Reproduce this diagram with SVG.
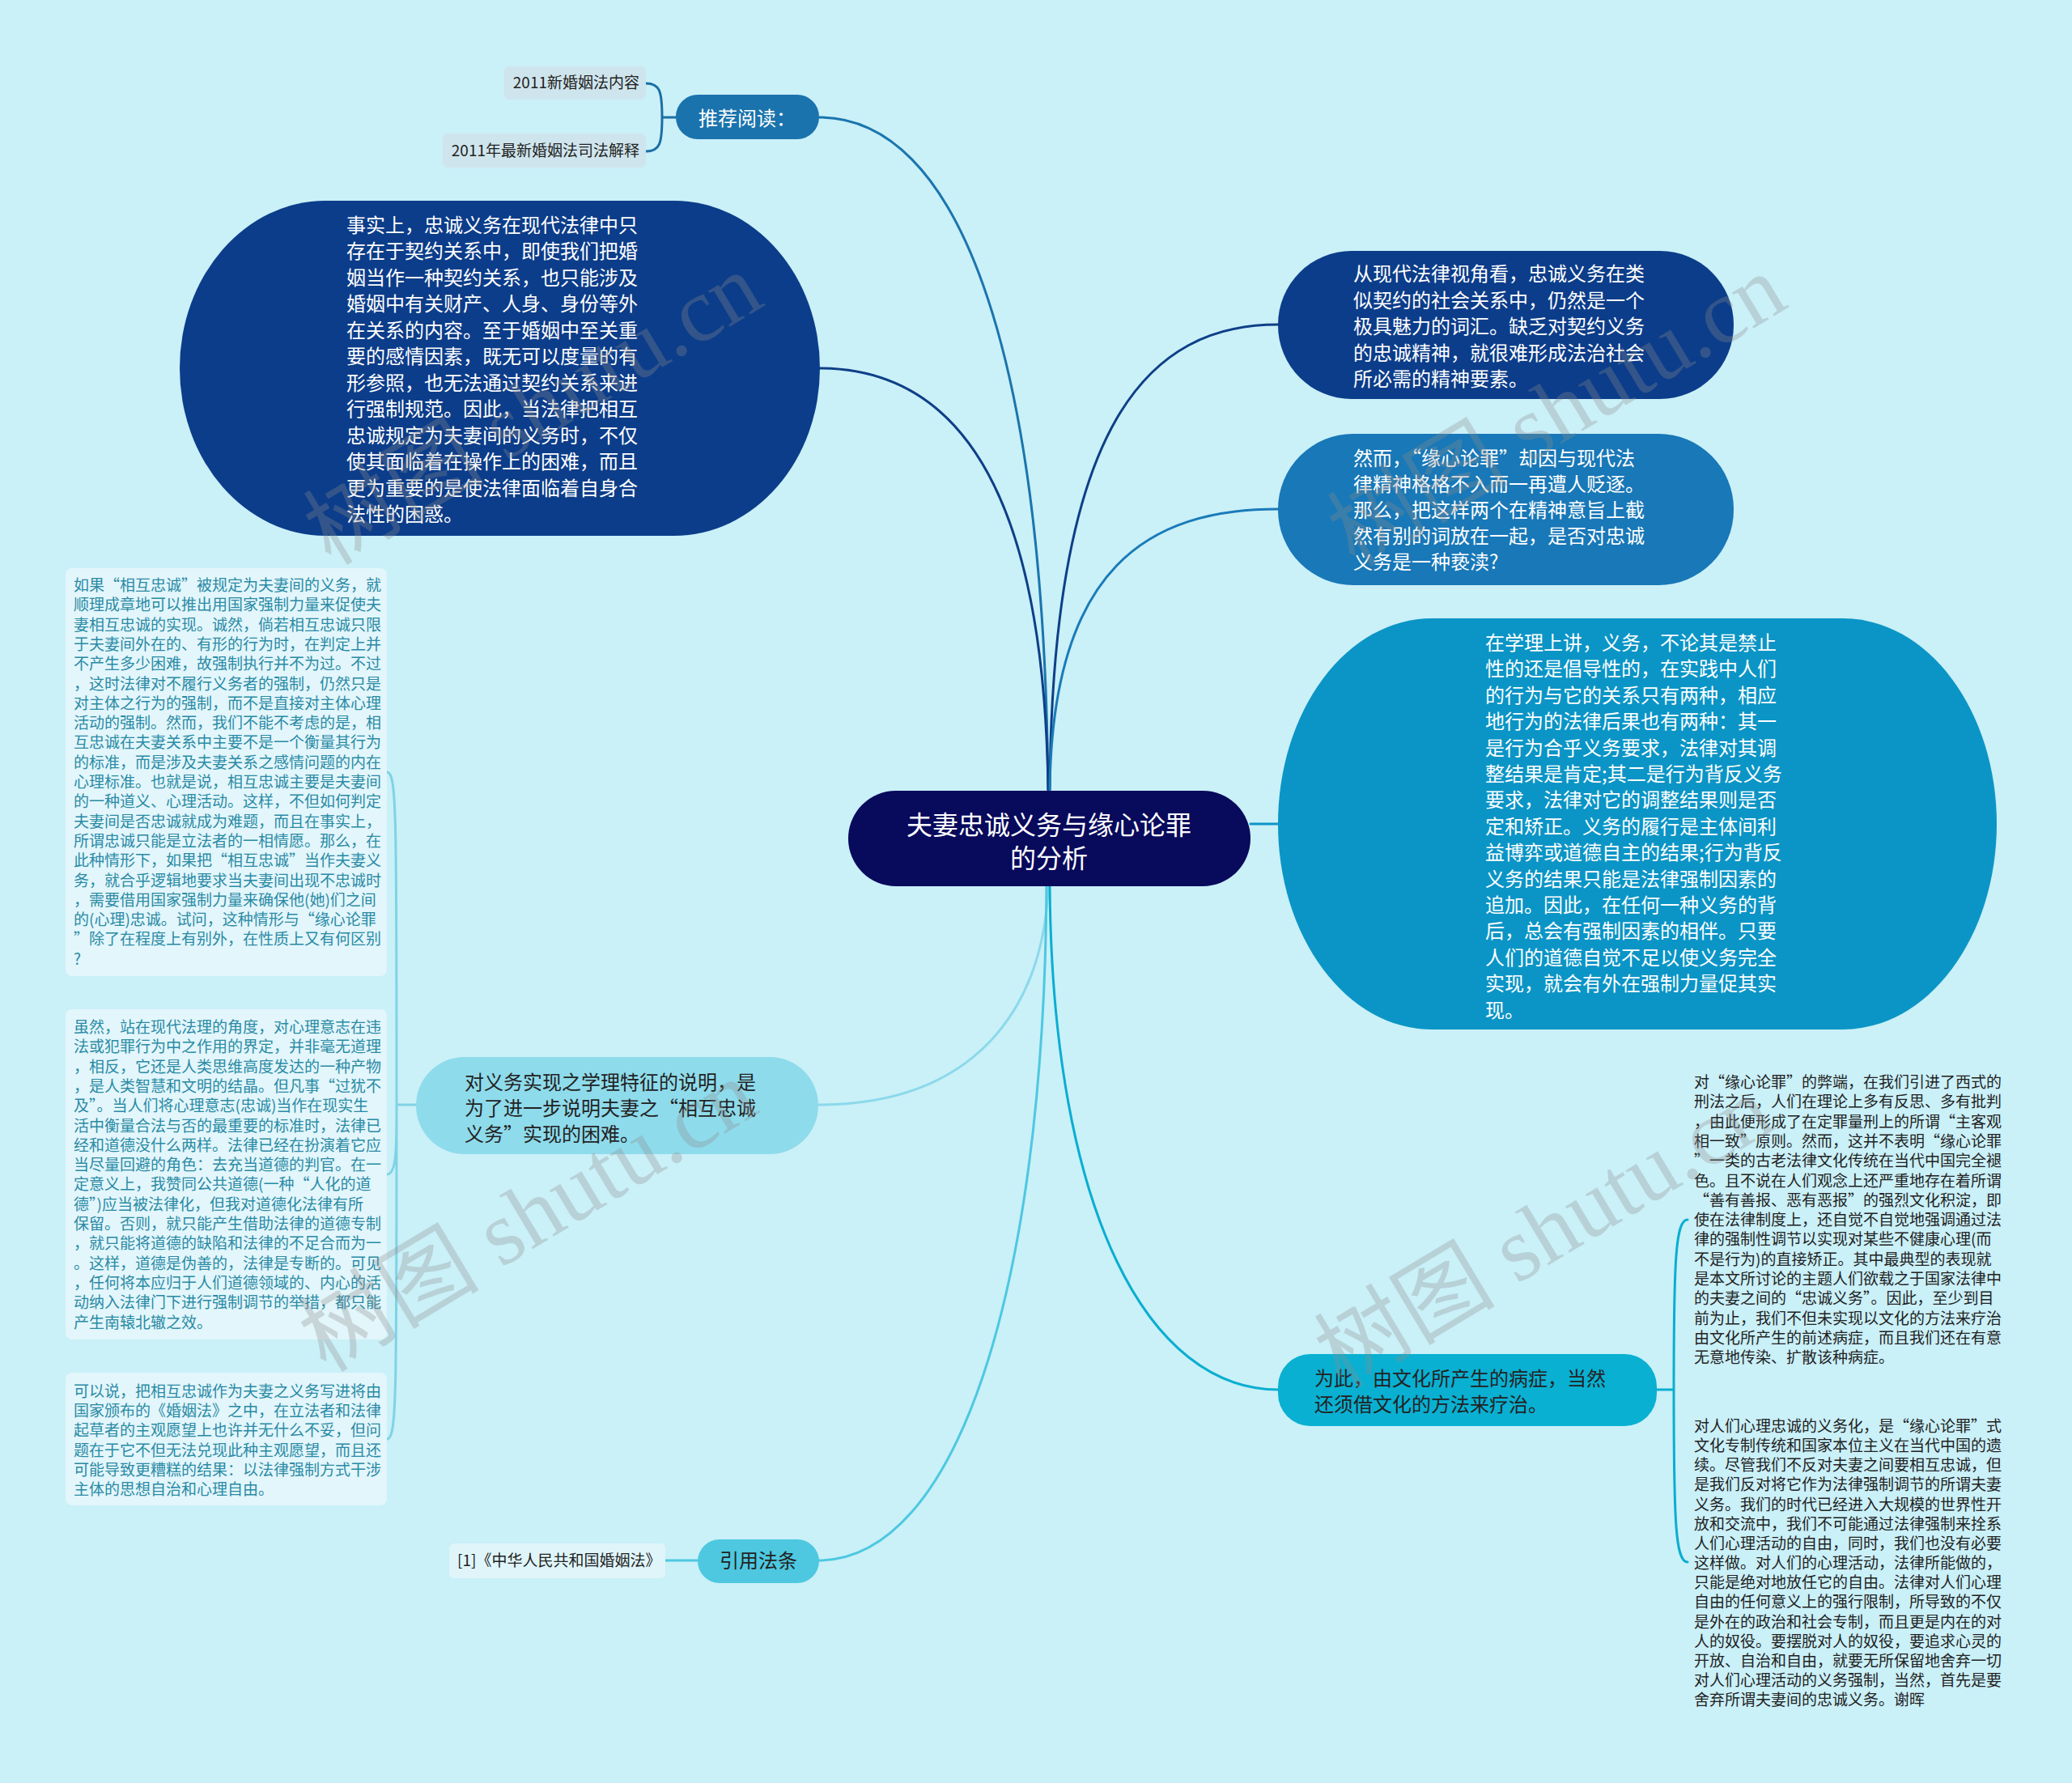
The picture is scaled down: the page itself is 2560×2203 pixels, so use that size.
<svg xmlns="http://www.w3.org/2000/svg" width="2560" height="2203" viewBox="0 0 2560 2203">
<style>
.cn{font-family:"Noto Sans CJK SC","Liberation Sans",sans-serif}
.w{fill:#ffffff}
.d{fill:#222222}
.tl{fill:#2a8aa5}
.f24{font-size:24px}
.f19{font-size:19px}
.f32{font-size:32px}
.ln{fill:none;stroke-width:3;stroke-linecap:round}
.wm{font-family:"Liberation Serif","Noto Sans CJK SC",serif;font-size:112px;fill:#8c8c8c;opacity:0.3}
</style>
<rect width="2560" height="2203" fill="#caf0f8"/>

<g id="connectors">
  <path class="ln" stroke="#1b75ad" d="M1012 145 C1180 145 1290 420 1295 976"/>
  <path class="ln" stroke="#0e3f87" d="M1012 455 C1180 455 1290 600 1295 976"/>
  <path class="ln" stroke="#0e3f87" d="M1579 401 C1420 401 1300 520 1297 976"/>
  <path class="ln" stroke="#1a7bb8" d="M1579 629 C1420 629 1300 700 1297 976"/>
  <path class="ln" stroke="#0b95c6" d="M1545 1018 L1579 1018"/>
  <path class="ln" stroke="#8bd9ea" d="M1295 1094 C1290 1250 1200 1365 1011 1365"/>
  <path class="ln" stroke="#0aaed0" d="M1297 1094 C1300 1500 1420 1717 1579 1717"/>
  <path class="ln" stroke="#4dc8e0" d="M1293 1094 C1290 1600 1180 1928 1011 1928"/>
  <path class="ln" stroke="#1b6fa6" d="M835 145 L818 145 M818 145 C818 112 815 103 798 103 M818 145 C818 178 815 187 798 187"/>
  <path class="ln" stroke="#7fd3e6" d="M514 1365 L490 1365 M490 1365 C490 1000 490 954 478 954 M490 1365 C490 1420 490 1451 478 1451 M490 1365 C490 1730 490 1778 478 1778"/>
  <path class="ln" stroke="#0aaed0" d="M2047 1717 L2068 1717 M2068 1717 C2068 1560 2070 1507 2085 1507 M2068 1717 C2068 1880 2070 1930 2085 1930"/>
  <path class="ln" stroke="#4dc8e0" d="M862 1928 L822 1928"/>
</g>

<g id="root">
  <rect x="1048" y="977" width="497" height="118" rx="59" fill="#080a5c"/>
  <text class="cn w f32" text-anchor="middle" x="1296" y="1031">夫妻忠诚义务与缘心论罪</text>
  <text class="cn w f32" text-anchor="middle" x="1296" y="1072">的分析</text>
</g>

<g id="n-recommend">
  <rect x="835" y="117" width="177" height="55" rx="27" fill="#1a73ad"/>
  <text class="cn w f24" x="923" y="155" text-anchor="middle">推荐阅读：</text>
</g>
<g id="n-rec-1">
  <rect x="623" y="82" width="175" height="41" rx="6" fill="#cfe5ed"/>
  <text class="cn d f19" x="790" y="109" text-anchor="end">2011新婚姻法内容</text>
</g>
<g id="n-rec-2">
  <rect x="547" y="165" width="251" height="42" rx="6" fill="#cfe5ed"/>
  <text class="cn d f19" x="790" y="193" text-anchor="end">2011年最新婚姻法司法解释</text>
</g>

<g id="n-left-big">
  <rect x="222" y="248" width="791" height="414" rx="180" ry="207" fill="#0c3d8a"/>
  <text class="cn w f24">
    <tspan x="428" y="287">事实上，忠诚义务在现代法律中只</tspan>
    <tspan x="428" dy="32.45">存在于契约关系中，即使我们把婚</tspan>
    <tspan x="428" dy="32.45">姻当作一种契约关系，也只能涉及</tspan>
    <tspan x="428" dy="32.45">婚姻中有关财产、人身、身份等外</tspan>
    <tspan x="428" dy="32.45">在关系的内容。至于婚姻中至关重</tspan>
    <tspan x="428" dy="32.45">要的感情因素，既无可以度量的有</tspan>
    <tspan x="428" dy="32.45">形参照，也无法通过契约关系来进</tspan>
    <tspan x="428" dy="32.45">行强制规范。因此，当法律把相互</tspan>
    <tspan x="428" dy="32.45">忠诚规定为夫妻间的义务时，不仅</tspan>
    <tspan x="428" dy="32.45">使其面临着在操作上的困难，而且</tspan>
    <tspan x="428" dy="32.45">更为重要的是使法律面临着自身合</tspan>
    <tspan x="428" dy="32.45">法性的困惑。</tspan>
  </text>
</g>

<g id="n-right-1">
  <rect x="1579" y="310" width="563" height="183" rx="91" fill="#0c3d8a"/>
  <text class="cn w f24">
    <tspan x="1672" y="347">从现代法律视角看，忠诚义务在类</tspan>
    <tspan x="1672" dy="32.5">似契约的社会关系中，仍然是一个</tspan>
    <tspan x="1672" dy="32.5">极具魅力的词汇。缺乏对契约义务</tspan>
    <tspan x="1672" dy="32.5">的忠诚精神，就很难形成法治社会</tspan>
    <tspan x="1672" dy="32.5">所必需的精神要素。</tspan>
  </text>
</g>

<g id="n-right-2">
  <rect x="1579" y="536" width="563" height="187" rx="93" fill="#1878b8"/>
  <text class="cn w f24">
    <tspan x="1672" y="575">然而，“缘心论罪”却因与现代法</tspan>
    <tspan x="1672" dy="32">律精神格格不入而一再遭人贬逐。</tspan>
    <tspan x="1672" dy="32">那么，把这样两个在精神意旨上截</tspan>
    <tspan x="1672" dy="32">然有别的词放在一起，是否对忠诚</tspan>
    <tspan x="1672" dy="32">义务是一种亵渎?</tspan>
  </text>
</g>

<g id="n-right-big">
  <rect x="1579" y="764" width="888" height="508" rx="190" ry="254" fill="#0b95c6"/>
  <text class="cn w f24">
    <tspan x="1835" y="803">在学理上讲，义务，不论其是禁止</tspan>
    <tspan x="1835" dy="32.4">性的还是倡导性的，在实践中人们</tspan>
    <tspan x="1835" dy="32.4">的行为与它的关系只有两种，相应</tspan>
    <tspan x="1835" dy="32.4">地行为的法律后果也有两种：其一</tspan>
    <tspan x="1835" dy="32.4">是行为合乎义务要求，法律对其调</tspan>
    <tspan x="1835" dy="32.4">整结果是肯定;其二是行为背反义务</tspan>
    <tspan x="1835" dy="32.4">要求，法律对它的调整结果则是否</tspan>
    <tspan x="1835" dy="32.4">定和矫正。义务的履行是主体间利</tspan>
    <tspan x="1835" dy="32.4">益博弈或道德自主的结果;行为背反</tspan>
    <tspan x="1835" dy="32.4">义务的结果只能是法律强制因素的</tspan>
    <tspan x="1835" dy="32.4">追加。因此，在任何一种义务的背</tspan>
    <tspan x="1835" dy="32.4">后，总会有强制因素的相伴。只要</tspan>
    <tspan x="1835" dy="32.4">人们的道德自觉不足以使义务完全</tspan>
    <tspan x="1835" dy="32.4">实现，就会有外在强制力量促其实</tspan>
    <tspan x="1835" dy="32.4">现。</tspan>
  </text>
</g>

<g id="n-left-mid">
  <rect x="514" y="1306" width="497" height="120" rx="60" fill="#8edbeb"/>
  <text class="cn d f24">
    <tspan x="574" y="1346">对义务实现之学理特征的说明，是</tspan>
    <tspan x="574" dy="32">为了进一步说明夫妻之“相互忠诚</tspan>
    <tspan x="574" dy="32">义务”实现的困难。</tspan>
  </text>
</g>

<g id="n-left-box-a">
  <rect x="81" y="702" width="397" height="504" rx="8" fill="#e2f6fb"/>
  <text class="cn tl f19">
    <tspan x="91" y="730">如果“相互忠诚”被规定为夫妻间的义务，就</tspan>
    <tspan x="91" dy="24.3">顺理成章地可以推出用国家强制力量来促使夫</tspan>
    <tspan x="91" dy="24.3">妻相互忠诚的实现。诚然，倘若相互忠诚只限</tspan>
    <tspan x="91" dy="24.3">于夫妻间外在的、有形的行为时，在判定上并</tspan>
    <tspan x="91" dy="24.3">不产生多少困难，故强制执行并不为过。不过</tspan>
    <tspan x="91" dy="24.3">，这时法律对不履行义务者的强制，仍然只是</tspan>
    <tspan x="91" dy="24.3">对主体之行为的强制，而不是直接对主体心理</tspan>
    <tspan x="91" dy="24.3">活动的强制。然而，我们不能不考虑的是，相</tspan>
    <tspan x="91" dy="24.3">互忠诚在夫妻关系中主要不是一个衡量其行为</tspan>
    <tspan x="91" dy="24.3">的标准，而是涉及夫妻关系之感情问题的内在</tspan>
    <tspan x="91" dy="24.3">心理标准。也就是说，相互忠诚主要是夫妻间</tspan>
    <tspan x="91" dy="24.3">的一种道义、心理活动。这样，不但如何判定</tspan>
    <tspan x="91" dy="24.3">夫妻间是否忠诚就成为难题，而且在事实上，</tspan>
    <tspan x="91" dy="24.3">所谓忠诚只能是立法者的一相情愿。那么，在</tspan>
    <tspan x="91" dy="24.3">此种情形下，如果把“相互忠诚”当作夫妻义</tspan>
    <tspan x="91" dy="24.3">务，就合乎逻辑地要求当夫妻间出现不忠诚时</tspan>
    <tspan x="91" dy="24.3">，需要借用国家强制力量来确保他(她)们之间</tspan>
    <tspan x="91" dy="24.3">的(心理)忠诚。试问，这种情形与“缘心论罪</tspan>
    <tspan x="91" dy="24.3">”除了在程度上有别外，在性质上又有何区别</tspan>
    <tspan x="91" dy="24.3">?</tspan>
  </text>
</g>

<g id="n-left-box-b">
  <rect x="81" y="1247" width="397" height="408" rx="8" fill="#e2f6fb"/>
  <text class="cn tl f19">
    <tspan x="91" y="1276">虽然，站在现代法理的角度，对心理意志在违</tspan>
    <tspan x="91" dy="24.3">法或犯罪行为中之作用的界定，并非毫无道理</tspan>
    <tspan x="91" dy="24.3">，相反，它还是人类思维高度发达的一种产物</tspan>
    <tspan x="91" dy="24.3">，是人类智慧和文明的结晶。但凡事“过犹不</tspan>
    <tspan x="91" dy="24.3">及”。当人们将心理意志(忠诚)当作在现实生</tspan>
    <tspan x="91" dy="24.3">活中衡量合法与否的最重要的标准时，法律已</tspan>
    <tspan x="91" dy="24.3">经和道德没什么两样。法律已经在扮演着它应</tspan>
    <tspan x="91" dy="24.3">当尽量回避的角色：去充当道德的判官。在一</tspan>
    <tspan x="91" dy="24.3">定意义上，我赞同公共道德(一种“人化的道</tspan>
    <tspan x="91" dy="24.3">德”)应当被法律化，但我对道德化法律有所</tspan>
    <tspan x="91" dy="24.3">保留。否则，就只能产生借助法律的道德专制</tspan>
    <tspan x="91" dy="24.3">，就只能将道德的缺陷和法律的不足合而为一</tspan>
    <tspan x="91" dy="24.3">。这样，道德是伪善的，法律是专断的。可见</tspan>
    <tspan x="91" dy="24.3">，任何将本应归于人们道德领域的、内心的活</tspan>
    <tspan x="91" dy="24.3">动纳入法律门下进行强制调节的举措，都只能</tspan>
    <tspan x="91" dy="24.3">产生南辕北辙之效。</tspan>
  </text>
</g>

<g id="n-left-box-c">
  <rect x="81" y="1696" width="397" height="164" rx="8" fill="#e2f6fb"/>
  <text class="cn tl f19">
    <tspan x="91" y="1726">可以说，把相互忠诚作为夫妻之义务写进将由</tspan>
    <tspan x="91" dy="24.2">国家颁布的《婚姻法》之中，在立法者和法律</tspan>
    <tspan x="91" dy="24.2">起草者的主观愿望上也许并无什么不妥，但问</tspan>
    <tspan x="91" dy="24.2">题在于它不但无法兑现此种主观愿望，而且还</tspan>
    <tspan x="91" dy="24.2">可能导致更糟糕的结果：以法律强制方式干涉</tspan>
    <tspan x="91" dy="24.2">主体的思想自治和心理自由。</tspan>
  </text>
</g>

<g id="n-culture">
  <rect x="1579" y="1673" width="468" height="89" rx="40" fill="#09b0d2"/>
  <text class="cn d f24">
    <tspan x="1624" y="1712">为此，由文化所产生的病症，当然</tspan>
    <tspan x="1624" dy="32">还须借文化的方法来疗治。</tspan>
  </text>
</g>

<g id="n-culture-text-1">
  <text class="cn d f19">
    <tspan x="2093" y="1344">对“缘心论罪”的弊端，在我们引进了西式的</tspan>
    <tspan x="2093" dy="24.3">刑法之后，人们在理论上多有反思、多有批判</tspan>
    <tspan x="2093" dy="24.3">，由此便形成了在定罪量刑上的所谓“主客观</tspan>
    <tspan x="2093" dy="24.3">相一致”原则。然而，这并不表明“缘心论罪</tspan>
    <tspan x="2093" dy="24.3">”一类的古老法律文化传统在当代中国完全褪</tspan>
    <tspan x="2093" dy="24.3">色。且不说在人们观念上还严重地存在着所谓</tspan>
    <tspan x="2093" dy="24.3">“善有善报、恶有恶报”的强烈文化积淀，即</tspan>
    <tspan x="2093" dy="24.3">使在法律制度上，还自觉不自觉地强调通过法</tspan>
    <tspan x="2093" dy="24.3">律的强制性调节以实现对某些不健康心理(而</tspan>
    <tspan x="2093" dy="24.3">不是行为)的直接矫正。其中最典型的表现就</tspan>
    <tspan x="2093" dy="24.3">是本文所讨论的主题人们欲载之于国家法律中</tspan>
    <tspan x="2093" dy="24.3">的夫妻之间的“忠诚义务”。因此，至少到目</tspan>
    <tspan x="2093" dy="24.3">前为止，我们不但未实现以文化的方法来疗治</tspan>
    <tspan x="2093" dy="24.3">由文化所产生的前述病症，而且我们还在有意</tspan>
    <tspan x="2093" dy="24.3">无意地传染、扩散该种病症。</tspan>
  </text>
</g>

<g id="n-culture-text-2">
  <text class="cn d f19">
    <tspan x="2093" y="1769">对人们心理忠诚的义务化，是“缘心论罪”式</tspan>
    <tspan x="2093" dy="24.15">文化专制传统和国家本位主义在当代中国的遗</tspan>
    <tspan x="2093" dy="24.15">续。尽管我们不反对夫妻之间要相互忠诚，但</tspan>
    <tspan x="2093" dy="24.15">是我们反对将它作为法律强制调节的所谓夫妻</tspan>
    <tspan x="2093" dy="24.15">义务。我们的时代已经进入大规模的世界性开</tspan>
    <tspan x="2093" dy="24.15">放和交流中，我们不可能通过法律强制来拴系</tspan>
    <tspan x="2093" dy="24.15">人们心理活动的自由，同时，我们也没有必要</tspan>
    <tspan x="2093" dy="24.15">这样做。对人们的心理活动，法律所能做的，</tspan>
    <tspan x="2093" dy="24.15">只能是绝对地放任它的自由。法律对人们心理</tspan>
    <tspan x="2093" dy="24.15">自由的任何意义上的强行限制，所导致的不仅</tspan>
    <tspan x="2093" dy="24.15">是外在的政治和社会专制，而且更是内在的对</tspan>
    <tspan x="2093" dy="24.15">人的奴役。要摆脱对人的奴役，要追求心灵的</tspan>
    <tspan x="2093" dy="24.15">开放、自治和自由，就要无所保留地舍弃一切</tspan>
    <tspan x="2093" dy="24.15">对人们心理活动的义务强制，当然，首先是要</tspan>
    <tspan x="2093" dy="24.15">舍弃所谓夫妻间的忠诚义务。谢晖</tspan>
  </text>
</g>

<g id="n-law">
  <rect x="862" y="1902" width="150" height="54" rx="27" fill="#4dc8e0"/>
  <text class="cn d f24" x="937" y="1937" text-anchor="middle">引用法条</text>
</g>
<g id="n-law-1">
  <rect x="555" y="1907" width="267" height="43" rx="6" fill="#dff5fa"/>
  <text class="cn d f19" x="565" y="1935">[1]《中华人民共和国婚姻法》</text>
</g>

<g id="watermarks">
  <text class="wm" transform="translate(678 538) rotate(-31)" text-anchor="middle">树图 shutu.cn</text>
  <text class="wm" transform="translate(1943 540) rotate(-31)" text-anchor="middle">树图 shutu.cn</text>
  <text class="wm" transform="translate(672 1535) rotate(-31)" text-anchor="middle">树图 shutu.cn</text>
  <text class="wm" transform="translate(1927 1555) rotate(-31)" text-anchor="middle">树图 shutu.cn</text>
</g>
</svg>
